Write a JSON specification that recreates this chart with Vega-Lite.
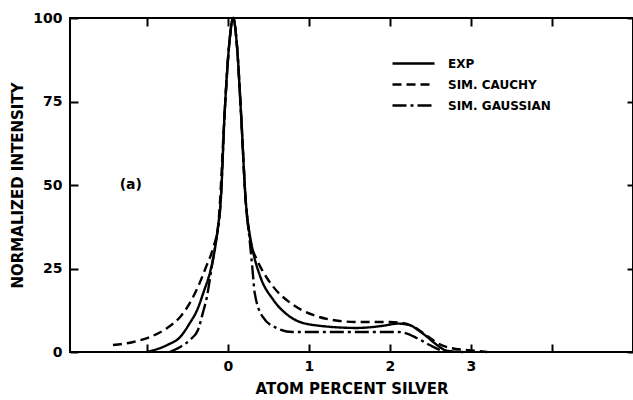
{
  "$schema": "https://vega.github.io/schema/vega-lite/v6.json",
  "width": 563,
  "height": 334,
  "autosize": "none",
  "padding": {"left": 70, "top": 18, "right": 0, "bottom": 48},
  "background": "white",
  "config": {
    "view": {"stroke": "black", "strokeWidth": 2},
    "font": "DejaVu Sans",
    "axis": {"domain": false, "tickColor": "black", "tickWidth": 2, "grid": false, "labelColor": "black", "titleColor": "black", "labelFont": "DejaVu Sans", "titleFont": "DejaVu Sans", "labelFontWeight": "bold", "titleFontWeight": "bold"}
  },
  "datasets": {
    "curves": [
      {"series": "EXP", "x": -1.0, "y": 0},
      {"series": "EXP", "x": -0.75, "y": 2.1},
      {"series": "EXP", "x": -0.59, "y": 4.5},
      {"series": "EXP", "x": -0.47, "y": 8.7},
      {"series": "EXP", "x": -0.38, "y": 12.6},
      {"series": "EXP", "x": -0.3, "y": 18},
      {"series": "EXP", "x": -0.22, "y": 24},
      {"series": "EXP", "x": -0.16, "y": 31},
      {"series": "EXP", "x": -0.12, "y": 38},
      {"series": "EXP", "x": -0.09, "y": 45},
      {"series": "EXP", "x": -0.04, "y": 72},
      {"series": "EXP", "x": 0.015, "y": 92},
      {"series": "EXP", "x": 0.065, "y": 100},
      {"series": "EXP", "x": 0.11, "y": 92},
      {"series": "EXP", "x": 0.16, "y": 72},
      {"series": "EXP", "x": 0.22, "y": 45},
      {"series": "EXP", "x": 0.27, "y": 35},
      {"series": "EXP", "x": 0.31, "y": 30},
      {"series": "EXP", "x": 0.40, "y": 22.5},
      {"series": "EXP", "x": 0.56, "y": 15.6},
      {"series": "EXP", "x": 0.77, "y": 10.5},
      {"series": "EXP", "x": 1.05, "y": 8.1},
      {"series": "EXP", "x": 1.59, "y": 7.2},
      {"series": "EXP", "x": 1.9, "y": 7.8},
      {"series": "EXP", "x": 2.1, "y": 8.5},
      {"series": "EXP", "x": 2.25, "y": 8.0},
      {"series": "EXP", "x": 2.35, "y": 6.5},
      {"series": "EXP", "x": 2.46, "y": 4.5},
      {"series": "EXP", "x": 2.58, "y": 2.1},
      {"series": "EXP", "x": 2.7, "y": 0.4},
      {"series": "EXP", "x": 2.9, "y": 0},
      {"series": "SIM. CAUCHY", "x": -1.42, "y": 2.1},
      {"series": "SIM. CAUCHY", "x": -1.17, "y": 3.0},
      {"series": "SIM. CAUCHY", "x": -0.96, "y": 4.5},
      {"series": "SIM. CAUCHY", "x": -0.75, "y": 7.2},
      {"series": "SIM. CAUCHY", "x": -0.59, "y": 10.5},
      {"series": "SIM. CAUCHY", "x": -0.47, "y": 14.7},
      {"series": "SIM. CAUCHY", "x": -0.37, "y": 19.5},
      {"series": "SIM. CAUCHY", "x": -0.27, "y": 25.5},
      {"series": "SIM. CAUCHY", "x": -0.18, "y": 31.4},
      {"series": "SIM. CAUCHY", "x": -0.12, "y": 38},
      {"series": "SIM. CAUCHY", "x": -0.04, "y": 72},
      {"series": "SIM. CAUCHY", "x": 0.015, "y": 92},
      {"series": "SIM. CAUCHY", "x": 0.065, "y": 100},
      {"series": "SIM. CAUCHY", "x": 0.11, "y": 92},
      {"series": "SIM. CAUCHY", "x": 0.16, "y": 72},
      {"series": "SIM. CAUCHY", "x": 0.22, "y": 45},
      {"series": "SIM. CAUCHY", "x": 0.28, "y": 33},
      {"series": "SIM. CAUCHY", "x": 0.35, "y": 28},
      {"series": "SIM. CAUCHY", "x": 0.40, "y": 25.5},
      {"series": "SIM. CAUCHY", "x": 0.56, "y": 19.5},
      {"series": "SIM. CAUCHY", "x": 0.77, "y": 14.7},
      {"series": "SIM. CAUCHY", "x": 1.05, "y": 11.1},
      {"series": "SIM. CAUCHY", "x": 1.38, "y": 9.3},
      {"series": "SIM. CAUCHY", "x": 1.59, "y": 9.0},
      {"series": "SIM. CAUCHY", "x": 2.0, "y": 9.0},
      {"series": "SIM. CAUCHY", "x": 2.15, "y": 8.7},
      {"series": "SIM. CAUCHY", "x": 2.3, "y": 7.5},
      {"series": "SIM. CAUCHY", "x": 2.46, "y": 4.8},
      {"series": "SIM. CAUCHY", "x": 2.6, "y": 2.5},
      {"series": "SIM. CAUCHY", "x": 2.75, "y": 1.2},
      {"series": "SIM. CAUCHY", "x": 3.0, "y": 0.5},
      {"series": "SIM. CAUCHY", "x": 3.2, "y": 0},
      {"series": "SIM. GAUSSIAN", "x": -0.72, "y": 0},
      {"series": "SIM. GAUSSIAN", "x": -0.59, "y": 1.5},
      {"series": "SIM. GAUSSIAN", "x": -0.47, "y": 3.6},
      {"series": "SIM. GAUSSIAN", "x": -0.37, "y": 6.6},
      {"series": "SIM. GAUSSIAN", "x": -0.31, "y": 11.7},
      {"series": "SIM. GAUSSIAN", "x": -0.26, "y": 16.5},
      {"series": "SIM. GAUSSIAN", "x": -0.2, "y": 25.5},
      {"series": "SIM. GAUSSIAN", "x": -0.15, "y": 33},
      {"series": "SIM. GAUSSIAN", "x": -0.09, "y": 45},
      {"series": "SIM. GAUSSIAN", "x": -0.04, "y": 72},
      {"series": "SIM. GAUSSIAN", "x": 0.015, "y": 92},
      {"series": "SIM. GAUSSIAN", "x": 0.065, "y": 100},
      {"series": "SIM. GAUSSIAN", "x": 0.11, "y": 92},
      {"series": "SIM. GAUSSIAN", "x": 0.16, "y": 72},
      {"series": "SIM. GAUSSIAN", "x": 0.22, "y": 45},
      {"series": "SIM. GAUSSIAN", "x": 0.27, "y": 33},
      {"series": "SIM. GAUSSIAN", "x": 0.30, "y": 25.5},
      {"series": "SIM. GAUSSIAN", "x": 0.33, "y": 17.7},
      {"series": "SIM. GAUSSIAN", "x": 0.43, "y": 10.5},
      {"series": "SIM. GAUSSIAN", "x": 0.60, "y": 7.2},
      {"series": "SIM. GAUSSIAN", "x": 0.80, "y": 6.0},
      {"series": "SIM. GAUSSIAN", "x": 1.59, "y": 6.0},
      {"series": "SIM. GAUSSIAN", "x": 2.1, "y": 6.0},
      {"series": "SIM. GAUSSIAN", "x": 2.2, "y": 5.6},
      {"series": "SIM. GAUSSIAN", "x": 2.33, "y": 4.2},
      {"series": "SIM. GAUSSIAN", "x": 2.49, "y": 2.1},
      {"series": "SIM. GAUSSIAN", "x": 2.62, "y": 0.6},
      {"series": "SIM. GAUSSIAN", "x": 2.75, "y": 0}
    ],
    "note": [{"x": -1.2, "y": 50, "label": "(a)"}]
  },
  "layer": [
    {
      "data": {"name": "curves"},
      "mark": {"type": "line", "color": "black", "strokeWidth": 2.4, "interpolate": "monotone"},
      "encoding": {
        "x": {"field": "x", "type": "quantitative", "scale": {"domain": [-1.95, 5], "nice": false, "zero": false},
              "axis": {"orient": "bottom", "offset": -8, "values": [-1, 0, 1, 2, 3, 4], "labelExpr": "datum.value >= 0 && datum.value <= 3 ? datum.label : ''", "tickSize": 8, "labelPadding": 7, "labelFontSize": 14, "title": "ATOM PERCENT SILVER", "titleFontSize": 15, "titlePadding": 8}},
        "y": {"field": "y", "type": "quantitative", "scale": {"domain": [0, 100], "nice": false},
              "axis": {"orient": "left", "offset": -8, "values": [0, 25, 50, 75, 100], "tickSize": 8, "labelPadding": 8, "labelFontSize": 14, "title": "NORMALIZED INTENSITY", "titleFontSize": 15, "titlePadding": 7}},
        "strokeDash": {"field": "series", "type": "nominal",
          "scale": {"domain": ["EXP", "SIM. CAUCHY", "SIM. GAUSSIAN"], "range": [[1, 0], [9, 5], [14, 4, 3, 4]]},
          "legend": {"title": null, "orient": "none", "legendX": 337, "legendY": 39, "symbolType": "M-4.2,0H4.2", "symbolSize": 100, "symbolStrokeWidth": 2.5, "symbolStrokeColor": "black", "symbolFillColor": "transparent", "labelFontSize": 12, "labelFontWeight": "bold", "labelFont": "DejaVu Sans", "labelColor": "black", "rowPadding": 8, "labelOffset": 28}}
      }
    },
    {
      "data": {"name": "note"},
      "mark": {"type": "text", "fontSize": 14, "fontWeight": "bold", "font": "DejaVu Sans", "color": "black"},
      "encoding": {
        "x": {"field": "x", "type": "quantitative", "axis": {"orient": "top", "offset": -8, "values": [-1, 0, 1, 2, 3, 4], "labels": false, "tickSize": 8, "title": null}},
        "y": {"field": "y", "type": "quantitative", "axis": {"orient": "right", "offset": -6, "values": [0, 25, 50, 75, 100], "labels": false, "tickSize": 6, "title": null}},
        "text": {"field": "label"}
      }
    }
  ],
  "resolve": {"axis": {"x": "independent", "y": "independent"}}
}
